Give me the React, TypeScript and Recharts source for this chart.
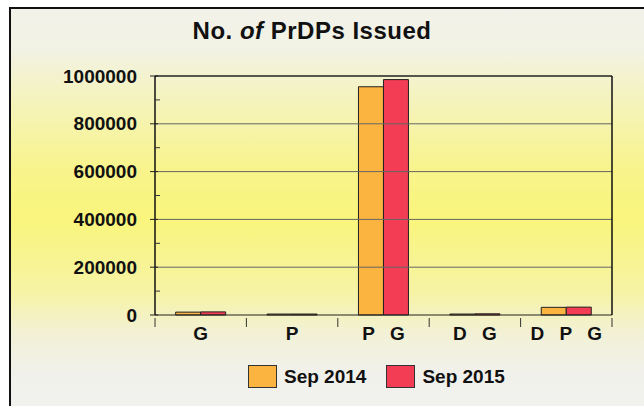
import React from 'react';
import { BarChart, Bar, XAxis, YAxis, ReferenceLine } from 'recharts';

const categories = ['G', 'P', 'P G', 'D G', 'D P G'];
const sep2014 = [12000, 4000, 955000, 4000, 32000];
const sep2015 = [13000, 4000, 985000, 5000, 33000];
const yTicks = [0, 100000, 200000, 300000, 400000, 500000, 600000, 700000, 800000, 900000, 1000000];
const gridValues = [200000, 400000, 600000, 800000, 1000000];

const ORANGE = '#fbb43f';
const RED = '#f23d55';
const FONT = '"Liberation Sans", Arial, sans-serif';

const W = 644;
const H = 406;
const PLOT_LEFT = 155;
const PLOT_RIGHT = 612;
const BAND = (PLOT_RIGHT - PLOT_LEFT) / categories.length;

const data = categories.map((name, i) => ({ name, a: sep2014[i], b: sep2015[i] }));

function LeftTick(props: any) {
  const { x, y, payload } = props;
  const major = payload.value % 200000 === 0;
  return (
    <g>
      {major ? (
        <>
          <line x1={x - 5} x2={x + 3} y1={y} y2={y} stroke="#222" />
          <text x={x - 18} y={y} dy={6.5} textAnchor="end" fontFamily={FONT} fontWeight="bold" fontSize={19} fill="#111">
            {payload.value}
          </text>
        </>
      ) : (
        <line x1={x} x2={x + 5} y1={y} y2={y} stroke="#333" />
      )}
    </g>
  );
}

function RightTick(props: any) {
  const { x, y, payload } = props;
  const major = payload.value % 200000 === 0;
  return major ? (
    <line x1={x - 3} x2={x + 4} y1={y} y2={y} stroke="#222" />
  ) : (
    <line x1={x - 5} x2={x} y1={y} y2={y} stroke="#333" />
  );
}

function CatTick(props: any) {
  const { x, y, payload, index } = props;
  const left = x - BAND / 2;
  return (
    <g>
      <line x1={left} x2={left} y1={y - 5} y2={y + 4} stroke="#333" />
      {index === categories.length - 1 && (
        <line x1={x + BAND / 2} x2={x + BAND / 2} y1={y - 5} y2={y + 4} stroke="#333" />
      )}
      <text x={x + 2.5} y={y} dy={17} textAnchor="middle" fontFamily={FONT} fontWeight="bold" fontSize={19} letterSpacing={5} fill="#111">
        {payload.value}
      </text>
    </g>
  );
}

function Swatch({ color, label }: { color: string; label: string }) {
  return (
    <div style={{ display: 'flex', alignItems: 'center', marginRight: 20 }}>
      <div style={{ width: 29, height: 23, background: color, border: '1px solid #333', boxSizing: 'border-box', marginRight: 7 }} />
      <span style={{ fontFamily: FONT, fontWeight: 'bold', fontSize: 19, color: '#111' }}>{label}</span>
    </div>
  );
}

export default function App() {
  return (
    <div style={{ position: 'absolute', left: 0, top: 0, width: W, height: H, background: '#fff', overflow: 'hidden' }}>
      <div
        style={{
          position: 'absolute',
          left: 9,
          top: 7,
          width: W,
          height: H,
          borderLeft: '2px solid #111',
          borderTop: '2px solid #111',
          background:
            'linear-gradient(to bottom, #f2f2ea 0%, #f2f2e4 10%, #f4f3c4 20%, #f8f48a 40%, #f9f57c 52%, #f6f3a6 70%, #f2f1d6 80%, #f1f1ec 90%, #f1f1ee 100%)',
        }}
      />
      <div
        style={{
          position: 'absolute',
          left: 0,
          width: W,
          top: 17,
          textAlign: 'center',
          fontFamily: FONT,
          fontWeight: 'bold',
          fontSize: 24,
          letterSpacing: 0.5,
          color: '#111',
        }}
      >
        <span style={{ position: 'relative', left: -10 }}>
          No. <span style={{ fontStyle: 'italic' }}>of</span> PrDPs Issued
        </span>
      </div>
      <div style={{ position: 'absolute', left: 0, top: 0 }}>
        <BarChart
          width={W}
          height={H}
          data={data}
          margin={{ top: 76, right: W - PLOT_RIGHT - 1, left: 0, bottom: 0 }}
          barCategoryGap="22.6%"
          barGap={0}
        >
          <XAxis
            dataKey="name"
            height={91}
            axisLine={{ stroke: '#222' }}
            tickLine={false}
            tick={<CatTick />}
            interval={0}
          />
          <YAxis
            yAxisId="left"
            width={PLOT_LEFT}
            domain={[0, 1000000]}
            ticks={yTicks}
            interval={0}
            tickSize={0}
            tickMargin={0}
            tickLine={false}
            axisLine={{ stroke: '#111', strokeWidth: 1.5 }}
            tick={<LeftTick />}
          />
          <YAxis
            yAxisId="right"
            orientation="right"
            width={1}
            domain={[0, 1000000]}
            ticks={yTicks}
            interval={0}
            tickSize={0}
            tickMargin={0}
            tickLine={false}
            axisLine={{ stroke: '#111', strokeWidth: 1.5 }}
            tick={<RightTick />}
          />
          {gridValues.map((v) => (
            <ReferenceLine
              key={v}
              yAxisId="left"
              y={v}
              stroke={v === 1000000 ? '#222' : '#666'}
              strokeWidth={v === 1000000 ? 1.5 : 1}
            />
          ))}
          <Bar yAxisId="left" dataKey="a" name="Sep 2014" fill={ORANGE} stroke="#222" strokeWidth={1} isAnimationActive={false} />
          <Bar yAxisId="left" dataKey="b" name="Sep 2015" fill={RED} stroke="#222" strokeWidth={1} isAnimationActive={false} />
        </BarChart>
      </div>
      <div style={{ position: 'absolute', left: 248, top: 365, display: 'flex' }}>
        <Swatch color={ORANGE} label="Sep 2014" />
        <Swatch color={RED} label="Sep 2015" />
      </div>
    </div>
  );
}
